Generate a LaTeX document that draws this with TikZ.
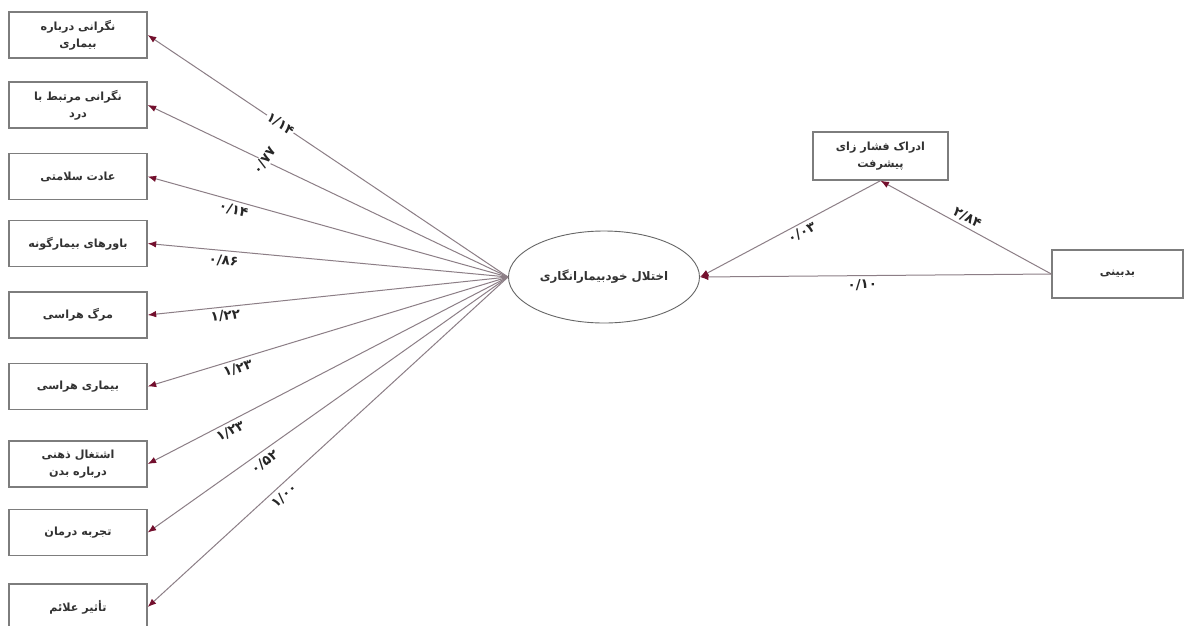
\documentclass[tikz,border=0pt]{standalone}
\usepackage{fontspec}
\newfontfamily\fa[Script=Arabic]{DejaVu Sans}
\TeXXeTstate=1
\usetikzlibrary{arrows.meta,shapes.geometric}
\definecolor{linec}{RGB}{140,126,134}
\definecolor{tipc}{RGB}{115,15,45}
\definecolor{boxc}{RGB}{125,125,125}
\definecolor{txtc}{RGB}{50,50,50}
\newcommand\rl[1]{\beginR #1\endR}
\tikzset{
  box/.style={draw=boxc, line width=1.4pt, minimum width=138pt, minimum height=46pt,
    inner sep=2pt, align=center, text=txtc, font=\fa\bfseries\fontsize{11.2}{17}\selectfont, fill=white},
  conn/.style={draw=linec, line width=1pt, -{Latex[length=8.5pt,width=6.5pt,color=tipc]}},
  lab/.style={font=\fa\bfseries\fontsize{13.5}{13.5}\selectfont, text=black!85, inner sep=1pt, sloped},
}
\begin{document}
\begin{tikzpicture}[x=1pt,y=-1pt]
\useasboundingbox[fill=white] (0,0) rectangle (1187,625);
\node[box] (b1) at (78,35) {\rl{نگرانی درباره}\\\rl{بیماری}};
\node[box] (b2) at (78,105) {\rl{نگرانی مرتبط با}\\\rl{درد}};
\node[box] (b3) at (78,176.5) {\rl{عادت سلامتی}};
\node[box] (b4) at (78,243.5) {\rl{باورهای بیمارگونه}};
\node[box] (b5) at (78,315) {\rl{مرگ هراسی}};
\node[box] (b6) at (78,386.5) {\rl{بیماری هراسی}};
\node[box] (b7) at (78,464) {\rl{اشتغال ذهنی}\\\rl{درباره بدن}};
\node[box] (b8) at (78,532.5) {\rl{تجربه درمان}};
\node[box] (b9) at (78,607) {\rl{تأثیر علائم}};
\node[draw=black!60, line width=0.9pt, ellipse, minimum width=178pt, minimum height=92pt,
  text=txtc, font=\fa\bfseries\fontsize{11.8}{13}\selectfont] (e) at (604,277) {\rl{اختلال خودبیمارانگاری}};
\node[box, minimum width=135pt, minimum height=48pt] (r1) at (880.5,156) {\rl{ادراک فشار زای}\\\rl{پیشرفت}};
\node[box, minimum width=131pt, minimum height=48pt] (r2) at (1117.5,274) {\rl{بدبینی}};

\draw[conn] (e.west) -- node[lab, pos=0.632, fill=white] {۱/۱۴} (b1.east);
\draw[conn] (e.west) -- node[lab, pos=0.676, fill=white, sloped=false, rotate=55] {۰/۷۷} (b2.east);
\draw[conn] (e.west) -- node[lab, pos=0.755, below=2pt] {۰/۱۴} (b3.east);
\draw[conn] (e.west) -- node[lab, pos=0.787, below=3pt] {۰/۸۶} (b4.east);
\draw[conn] (e.west) -- node[lab, pos=0.787, below=2pt] {۱/۲۲} (b5.east);
\draw[conn] (e.west) -- node[lab, pos=0.757, below=2pt] {۱/۲۳} (b6.east);
\draw[conn] (e.west) -- node[lab, pos=0.782, below=2pt] {۱/۲۳} (b7.east);
\draw[conn] (e.west) -- node[lab, pos=0.692, below=3pt] {۰/۵۲} (b8.east);
\draw[conn] (e.west) -- node[lab, pos=0.640, below=3pt] {۱/۰۰} (b9.east);

\draw[conn] (r2.west) -- node[lab, pos=0.517, above=2pt] {۲/۸۴} (r1.south);
\draw[conn] (r1.south) -- node[lab, pos=0.46, below=2pt] {۰/۰۳} (e.east);
\draw[conn] (r2.west) -- node[lab, pos=0.538, below=2pt] {۰/۱۰} (e.east);
\end{tikzpicture}
\end{document}
